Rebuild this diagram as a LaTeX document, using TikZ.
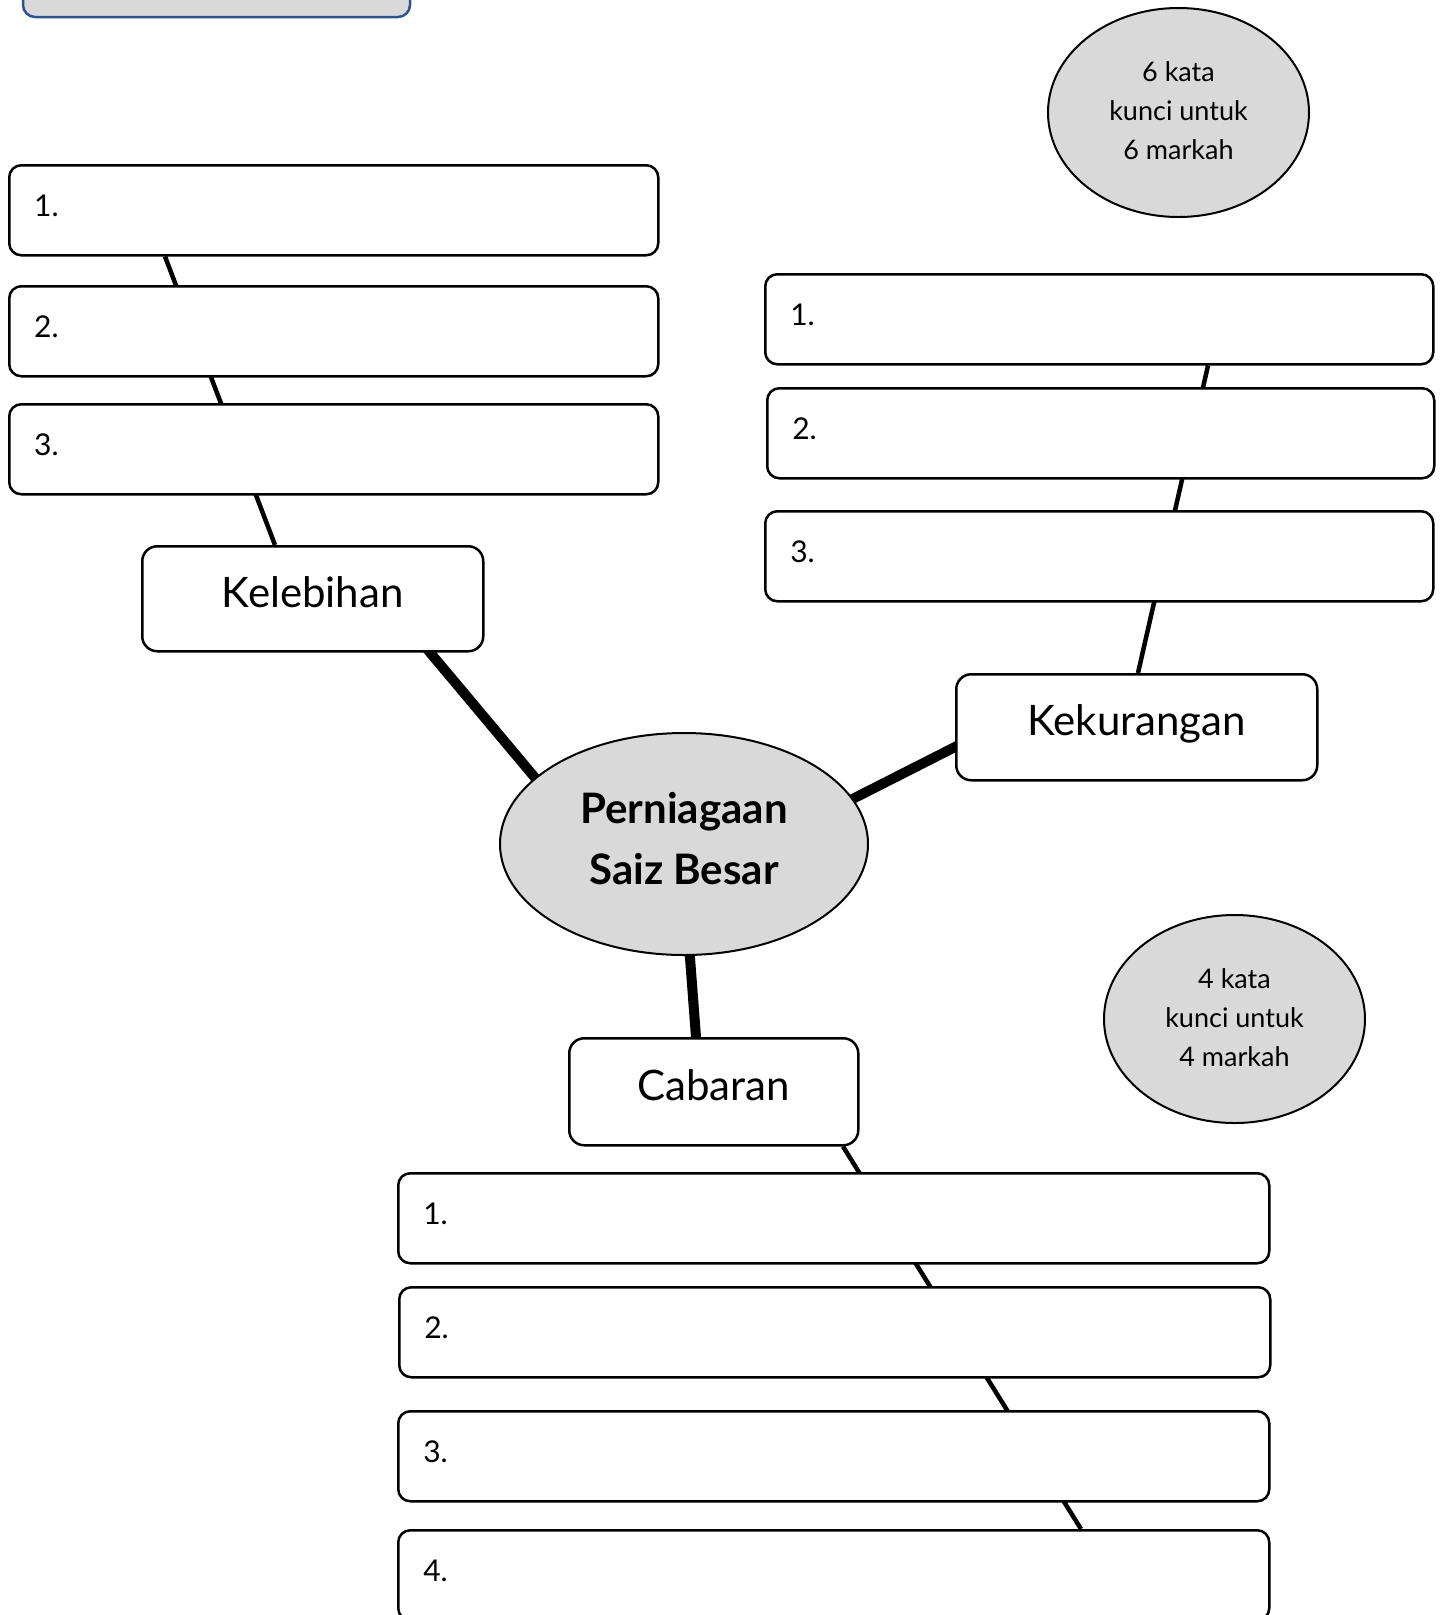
\documentclass[tikz,border=0pt]{standalone}
\usepackage{fontspec}
\setmainfont{Lato}
\usetikzlibrary{shapes.geometric,backgrounds,calc}
\definecolor{shade}{HTML}{D9D9D9}
\definecolor{frameblue}{HTML}{2F528F}
\begin{document}
\begin{tikzpicture}[x=1pt,y=-1pt,
  ans/.style={draw, line width=2.5pt, rounded corners=12pt, fill=white, inner xsep=25pt, inner ysep=0pt,
    minimum height=90pt, align=left, anchor=north west, text depth=10pt, font=\fontsize{30}{36}\selectfont},
  head/.style={draw, line width=2.5pt, rounded corners=15pt, fill=white, anchor=north west,
    text depth=14pt, font=\fontsize{42}{50}\selectfont},
  bubble/.style={ellipse, draw, line width=2pt, fill=shade, inner sep=0pt, align=center,
    text depth=3pt, font=\fontsize{27}{39}\selectfont},
  thinlink/.style={line width=4.5pt},
  thicklink/.style={line width=10pt, shorten <=-6pt, shorten >=-6pt}]
\useasboundingbox (0,0) rectangle (1448,1615);
\clip (0,0) rectangle (1448,1615);

% top-left partial box
\draw[frameblue, line width=2.5pt, fill=shade, rounded corners=12pt] (23,-40) rectangle (410,17);

% central topic
\node[ellipse, draw, line width=2pt, fill=shade, minimum width=368pt, minimum height=222pt, inner sep=0pt,
  align=center, text depth=12pt, font=\bfseries\fontsize{42}{61}\selectfont] (main) at (684,844) {Perniagaan\\Saiz Besar};

% notes
\node[bubble, minimum width=261pt, minimum height=209pt] (e1) at (1178.5,112.5) {6 kata\\kunci untuk\\6 markah};
\node[bubble, minimum width=261pt, minimum height=208pt] (e2) at (1234.5,1019) {4 kata\\kunci untuk\\4 markah};

% headings
\node[head, minimum width=341pt, minimum height=105pt] (kel) at (141,545) {Kelebihan};
\node[head, minimum width=361pt, minimum height=106pt] (kek) at (955,673) {Kekurangan};
\node[head, minimum width=289pt, minimum height=107pt] (cab) at (568,1037) {Cabaran};

% left answer boxes
\node[ans, text width=599pt] (l1) at (8,164) {1.};
\node[ans, text width=599pt] (l2) at (8,285) {2.};
\node[ans, text width=599pt] (l3) at (8,403) {3.};

% right answer boxes
\node[ans, text width=618pt] (r1) at (764,273) {1.};
\node[ans, text width=617pt] (r2) at (766,387) {2.};
\node[ans, text width=618pt] (r3) at (764,510) {3.};

% bottom answer boxes
\node[ans, text width=821pt] (b1) at (397,1172) {1.};
\node[ans, text width=821pt] (b2) at (398,1286) {2.};
\node[ans, text width=821pt] (b3) at (397,1410) {3.};
\node[ans, text width=821pt] (b4) at (397,1529) {4.};

\begin{pgfonlayer}{background}
  \draw[thinlink] ([xshift=134pt]kel.north west) -- ([xshift=157pt]l1.south west);
  \draw[thinlink] ([xshift=183pt]kek.north west) -- ([xshift=444pt]r1.south west);
  \draw[thinlink] ([xshift=275pt]cab.south west) -- ([xshift=684pt]b4.north west);
  \draw[thicklink] ([xshift=289pt]kel.south west) -- (main.156);
  \draw[thicklink] ([yshift=-74pt]kek.north west) -- (main.15);
  \draw[thicklink] ([xshift=128pt]cab.north west) -- (main.-87);
\end{pgfonlayer}
\end{tikzpicture}
\end{document}
